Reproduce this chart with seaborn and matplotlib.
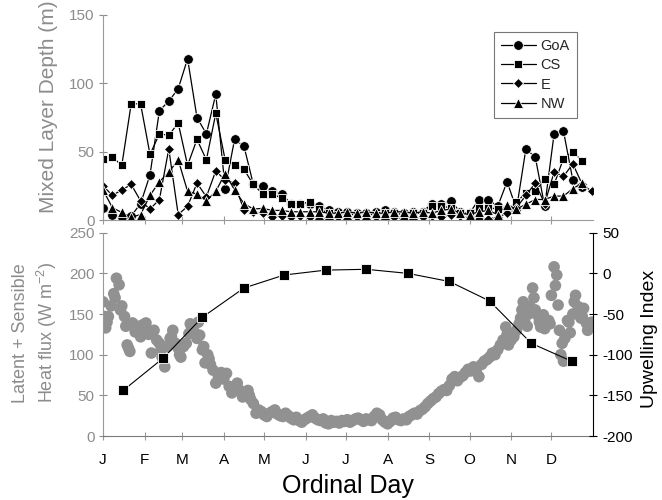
import numpy as np
import pandas as pd
import matplotlib
matplotlib.use('Agg')
import matplotlib.pyplot as plt
import seaborn as sns

sns.set_style('ticks')
plt.rcParams['font.family'] = ['Liberation Sans', 'DejaVu Sans']
plt.rcParams['axes.unicode_minus'] = False
plt.rcParams['mathtext.fontset'] = 'custom'
plt.rcParams['mathtext.rm'] = 'Liberation Sans'
plt.rcParams['mathtext.it'] = 'Liberation Sans:italic'

nan = np.nan

# weekly mixed layer depth (m), one value per week from day 0
week_day = np.arange(0, 365, 7)
goa = [9, 4, 2.5, 3, 12, 33, 80, 87, 96, 118,
       75, 63, 92, 23, 59, 54, 26, 25, 21, 19,
       12, 12, 12, 10.5, 7, 6, 6, 5, 5, 6,
       7, 6, 5, 6, 6, 12, 12, 14, 6, 5,
       15, 15, 10, 28, 8, 52, 46, 10, 63, 65,
       29, 24, nan]
cs = [45, 46, 40, 85, 85, 48, 63, 62, 71, 40,
      59, 44, 78, 44, 40, 37, 26, 19, 19, 16,
      12, 12, 13, 8, 5, 4, 4, 4, 4, 4,
      5, 5, 4, 5, 5, 10.5, 10, 9, 5, 5,
      9, 9, 8, 8, 13, 20, 21, 30, 26, 45,
      50, 43, nan]
e = [25, 18, 22, 26, 14, 8, 15, 52, 4, 10,
     27, 17, 36, 29, 27, 7, 6, 5, 2, 3,
     2, 3, 2, 1, 1, 2, 1, 2, 1, 2,
     1, 2, 1, 1, 2, 3, 2, 4, 3, 2,
     1, 1, 2, 5, 9, 18, 27, 12, 35, 32,
     41, 26, 21]
nw = [22, 9, 5.5, 2, 4, 18, 28, 35, 44, 21,
      19, 14, 21, 34, 22, 12, 8, 8.5, 7, 7,
      6, 6, 6, 6, 5, 5, 6, 5, 6, 5,
      5, 6, 6, 5, 6, 5, 7, 8, 5, 4,
      6, 7, 4, 11, 8, 11.5, 15, 15, 17.5, 17.5,
      23, 27, nan]

# latent + sensible heat flux (W m-2), every second day
hf_day = np.arange(0, 365, 2)
hf_val = [165, 133, 147, 160, 175, 194, 186, 160, 147, 112,
          104, 139, 128, 130, 122, 137, 139, 125, 102, 130,
          118, 114, 97, 85, 110, 120, 130, 114, 108, 97,
          110, 114, 126, 134, 128, 120, 124, 106, 90, 100,
          88, 81, 65, 73, 78, 70, 77, 61, 53, 58,
          65, 56, 48, 52, 56, 45, 40, 28, 32, 30,
          26, 24, 28, 30, 32, 27, 25, 24, 28, 25,
          22, 20, 23, 19, 17, 20, 22, 24, 26, 22,
          20, 19, 21, 16, 15, 19, 17, 18, 16, 19,
          18, 20, 17, 19, 21, 22, 20, 18, 21, 20,
          19, 24, 28, 26, 20, 17, 15, 18, 22, 23,
          20, 19, 21, 20, 24, 26, 28, 27, 31, 33,
          36, 40, 43, 46, 48, 52, 55, 57, 56, 62,
          70, 73, 68, 72, 74, 78, 82, 80, 85, 80,
          73, 88, 92, 94, 97, 102, 100, 106, 112, 118,
          134, 112, 118, 122, 130, 138, 155, 142, 135, 159,
          182, 155, 148, 134, 149, 140, 142, 173, 208, 198,
          130, 114, 120, 142, 127, 150, 173, 159, 145, 157,
          139, 135, 140]
# extra scattered days
hf_day_x = [1, 3, 9, 13, 17, 19, 27, 33, 37, 43, 51, 57, 65, 71, 75, 79, 99, 109,
            301, 311, 313, 317, 321, 325, 329, 333, 337, 339, 341, 343, 347, 351, 353, 357, 361]
hf_val_x = [147, 140, 170, 155, 135, 108, 135, 130, 128, 105, 122, 100, 138, 140, 110, 95, 62, 50,
            125, 145, 165, 150, 170, 140, 132, 138, 185, 161, 100, 92, 140, 165, 150, 147, 130]

# monthly upwelling index
mid_day = [15, 45, 74, 105, 135, 166, 196, 227, 258, 288, 319, 349]
upw = [-144, -104, -54, -18, -2, 4, 5, 0, -10, -34, -86, -108]

month_start = [0, 31, 59, 90, 120, 151, 181, 212, 243, 273, 304, 334]
month_lab = ['J', 'F', 'M', 'A', 'M', 'J', 'J', 'A', 'S', 'O', 'N', 'D']

GREY = '#8c8c8c'
PT = '#919191'
SPINE = '#9a9a9a'

fig = plt.figure(figsize=(6.62, 5), dpi=100)
ax1 = fig.add_axes([0.1556, 0.56, 0.7402, 0.41])
ax2 = fig.add_axes([0.1556, 0.128, 0.7402, 0.4066])
ax3 = ax2.twinx()

# top panel: mixed layer depth
mld = pd.DataFrame({'day': week_day, 'GoA': goa, 'CS': cs, 'E': e, 'NW': nw})
styles = [('GoA', 'o', 7), ('CS', 's', 5.5), ('E', 'D', 5.5), ('NW', '^', 7)]
for name, mk, ms in styles:
    sns.lineplot(data=mld, x='day', y=name, ax=ax1, color='black', lw=0.9,
                 marker=mk, markersize=ms, markeredgecolor='white',
                 markeredgewidth=0.6, label=name)
ax1.set_xlim(0, 365)
ax1.set_ylim(0, 150)
ax1.set_yticks([0, 50, 100, 150])
ax1.set_xticks(month_start)
ax1.set_xlabel('')
ax1.set_ylabel('')
ax1.tick_params(axis='y', direction='inout', length=6, colors=GREY, labelsize=11, pad=3)
ax1.tick_params(axis='x', direction='inout', length=6, color=SPINE, labelbottom=False)
for s in ['top', 'right']:
    ax1.spines[s].set_visible(False)
ax1.spines['left'].set_color(SPINE)
ax1.spines['bottom'].set_color(SPINE)
leg = ax1.legend(loc='upper right', bbox_to_anchor=(0.967, 0.917), frameon=True,
                 fancybox=False, edgecolor='#555555', fontsize=10.5, handlelength=2.4,
                 borderaxespad=0, labelspacing=0.35, handletextpad=0.3, borderpad=0.5)
leg.get_frame().set_linewidth(0.8)

# bottom panel: heat flux (left) and upwelling (right)
hf = pd.DataFrame({'day': np.concatenate([hf_day, hf_day_x]),
                   'flux': np.concatenate([hf_val, hf_val_x])})
sns.scatterplot(data=hf, x='day', y='flux', ax=ax2, color=PT, s=70,
                edgecolor='none', linewidth=0)
sns.lineplot(x=mid_day, y=upw, ax=ax3, color='black', lw=0.8, marker='s',
             markersize=6.5, markeredgecolor='white', markeredgewidth=0.6)
ax2.set_xlim(0, 365)
ax2.set_ylim(0, 250)
ax2.set_yticks(range(0, 251, 50))
ax3.set_ylim(-200, 50)
ax3.set_yticks(range(-200, 51, 50))
ax2.set_xticks(month_start)
ax2.set_xticklabels(month_lab)
ax2.set_xlabel('')
ax2.set_ylabel('')
ax3.set_ylabel('')
ax2.tick_params(axis='y', direction='inout', length=6, colors=GREY, labelsize=11, pad=3)
ax2.tick_params(axis='x', direction='inout', length=6, color=SPINE, labelcolor='black',
                labelsize=11, pad=9)
ax3.tick_params(axis='y', direction='inout', length=6, colors='black', labelsize=11, pad=4)
for s in ['top', 'right']:
    ax2.spines[s].set_visible(False)
for s in ['top', 'left', 'bottom']:
    ax3.spines[s].set_visible(False)
ax2.spines['left'].set_color(SPINE)
ax2.spines['bottom'].set_color('#7a7a7a')
ax3.spines['right'].set_color('black')

fig.text(48 / 662, 1 - 213 / 500, 'Mixed Layer Depth (m)', rotation=90,
         ha='center', va='bottom', color=GREY, fontsize=15)
fig.text(35.5 / 662, 1 - 333 / 500, 'Latent + Sensible\nHeat flux (W m$^{-2}$)',
         rotation=90, ha='center', va='center', color=GREY, fontsize=13,
         multialignment='center', linespacing=1.3)
fig.text(649 / 662, 1 - 339 / 500, 'Upwelling Index', rotation=90,
         ha='center', va='center', color='black', fontsize=14)
fig.text(348 / 662, 1 - 493 / 500, 'Ordinal Day', ha='center', va='baseline',
         color='black', fontsize=18)

plt.savefig('out.png', dpi=100)
